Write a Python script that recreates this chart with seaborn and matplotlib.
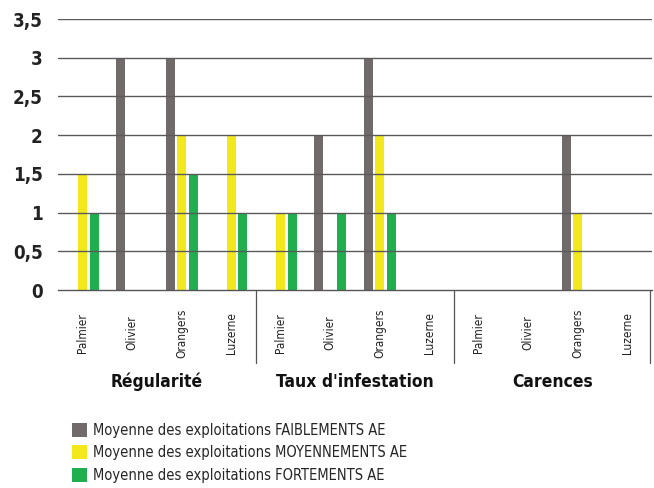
import matplotlib
matplotlib.use("Agg")
import matplotlib.pyplot as plt
from matplotlib.patches import Patch
import seaborn as sns
import pandas as pd

groups = ["Régularité", "Taux d'infestation", "Carences"]
crops = ["Palmier", "Olivier", "Orangers", "Luzerne"]
series = ["Moyenne des exploitations FAIBLEMENTS AE",
          "Moyenne des exploitations MOYENNEMENTS AE",
          "Moyenne des exploitations FORTEMENTS AE"]
colors = ["#716a6b", "#f2e81c", "#20ae4f"]

# values per group, order: Palmier, Olivier, Orangers, Luzerne
faibles = {"Régularité": [0, 3, 3, 0], "Taux d'infestation": [0, 2, 3, 0], "Carences": [0, 0, 2, 0]}
moyens = {"Régularité": [1.5, 0, 2, 2], "Taux d'infestation": [1, 0, 2, 0], "Carences": [0, 0, 1, 0]}
forts = {"Régularité": [1, 0, 1.5, 1], "Taux d'infestation": [1, 1, 1, 0], "Carences": [0, 0, 0, 0]}
yticks = [0, 0.5, 1, 1.5, 2, 2.5, 3, 3.5]
ytick_labels = ["0", "0,5", "1", "1,5", "2", "2,5", "3", "3,5"]

sns.set_theme(style="white")
plt.rcParams['font.family'] = ['DejaVu Sans']
plt.rcParams['font.stretch'] = 'condensed'

rows = []
order = []
for g in groups:
    for i, c in enumerate(crops):
        key = g + "|" + c
        order.append(key)
        for s, d in zip(series, [faibles, moyens, forts]):
            rows.append({"slot": key, "serie": s, "val": d[g][i]})
df = pd.DataFrame(rows)

fig = plt.figure(figsize=(6.54, 4.88), dpi=100)
ax = fig.add_axes([58/654, 1-290/488, (652-58)/654, (290-19)/488])
sns.barplot(data=df, x="slot", y="val", hue="serie", order=order, hue_order=series,
            palette=colors, width=0.7, gap=0.2, errorbar=None, ax=ax, legend=False,
            saturation=1, zorder=2, linewidth=0)
ax.set_xlim(-0.5, 11.5)
ax.set_ylim(0, 3.5)
ax.set_yticks(yticks)
ax.set_yticklabels(ytick_labels, fontsize=13.5, fontweight="bold", color="#222222",
                   fontstretch="condensed")
ax.tick_params(axis="y", length=0, pad=11)
ax.set_xticks([])
ax.set_xlabel("")
ax.set_ylabel("")
for sp in ["left", "right", "top"]:
    ax.spines[sp].set_visible(False)
ax.spines["bottom"].set_color("#555555")
ax.spines["bottom"].set_linewidth(1)
ax.spines["bottom"].set_zorder(5)
for y in yticks[1:]:
    ax.axhline(y, color="#5a5a5a", lw=1, zorder=4)

trans = ax.get_xaxis_transform()
for i, key in enumerate(order):
    crop = key.split("|")[1]
    ax.text(i, -(333-290)/271, crop, rotation=90, ha="center", va="center",
            fontsize=8.5, color="#222222", transform=trans, clip_on=False,
            fontstretch="condensed")
for gi, g in enumerate(groups):
    ax.text(gi*4 + 1.5, -(382-290)/271, g, ha="center", va="center", fontsize=12.5,
            fontweight="bold", color="#111111", transform=trans, clip_on=False,
            fontstretch="condensed")
for xs in [3.5, 7.5, 11.45]:
    ax.plot([xs, xs], [0, -(363-290)/271], color="#555555", lw=0.9, transform=trans,
            clip_on=False)

handles = [Patch(facecolor=c, edgecolor="none") for c in colors]
fig.legend(handles, series, loc="upper left", bbox_to_anchor=(72/654, 1-423/488),
           frameon=False, handlelength=1.05, handleheight=1.1,
           handletextpad=0.4, labelspacing=0.5, borderpad=0, borderaxespad=0,
           prop={"size": 10.5, "stretch": "condensed"})
fig.savefig("out.png", dpi=100)
